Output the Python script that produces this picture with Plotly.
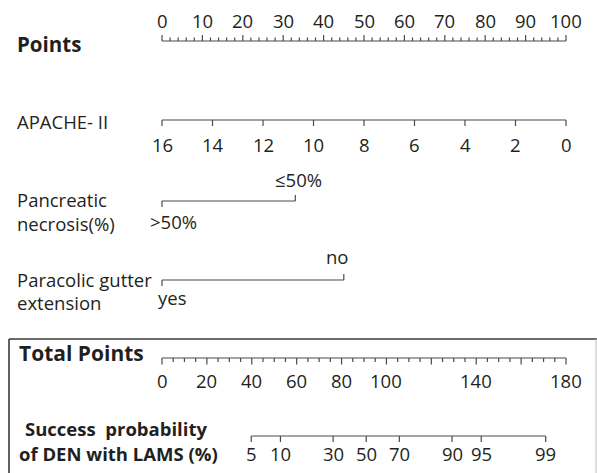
import math
import plotly.graph_objects as go

# ---------------- data ----------------
points_ticks = [0, 10, 20, 30, 40, 50, 60, 70, 80, 90, 100]
points_minor = list(range(0, 101, 2))

apache_values = [16, 14, 12, 10, 8, 6, 4, 2, 0]
apache_max = 16  # APACHE-II 16 -> 0 points, 0 -> 100 points

pancreatic_levels = [">50%", "≤50%"]
pancreatic_points = [0, 33]

paracolic_levels = ["yes", "no"]
paracolic_points = [0, 45]

total_ticks = [0, 20, 40, 60, 80, 100, 140, 180]
total_major = list(range(0, 181, 20))
total_minor = list(range(0, 181, 5))
total_max = 180

prob_labels = [5, 10, 30, 50, 70, 90, 95, 99]
tp_at_50 = 91.0      # total points where probability = 50%
tp_per_logit = 17.4  # total points per unit of linear predictor

# ---------------- layout constants ----------------
W, H = 597, 473
X0_PX, PX_PER_PT = 162.0, 4.04
TXT = "#231f20"
LINE = "#4a4a4a"
FONT = "Open Sans, Noto Sans, sans-serif"
FS = 18.5


def apache_pts(v):
    return (apache_max - v) / apache_max * 100


def total_to_pts(tp):
    return tp * 100 / total_max


def prob_to_pts(p):
    q = p / 100
    tp = tp_at_50 + tp_per_logit * math.log(q / (1 - q))
    return total_to_pts(tp)


fig = go.Figure()


def add_line(xs, ys, color=LINE, width=1.2):
    fig.add_trace(go.Scatter(x=xs, y=ys, mode="lines",
                             line=dict(color=color, width=width),
                             hoverinfo="skip", showlegend=False))


def add_axis(xpos, y, tick_len, major=None, major_len=None):
    add_line([min(xpos), max(xpos)], [y, y])
    xs, ys = [], []
    for x in xpos:
        L = tick_len
        if major is not None and x in major:
            L = major_len
        xs += [x, x, None]
        ys += [y, y + L, None]
    add_line(xs, ys)


def ann(text, x, y, size=FS, bold=False, xref="x", xanchor="center", xshift=0):
    fig.add_annotation(text=f"<b>{text}</b>" if bold else text,
                       x=x, y=y, xref=xref, yref="y", showarrow=False,
                       xanchor=xanchor, yanchor="middle", xshift=xshift,
                       font=dict(family=FONT, size=size, color=TXT))


# Points axis (ticks upward)
Y_PTS = 41
add_axis(points_minor, Y_PTS, -3.5, major=set(points_ticks), major_len=-6)
for t in points_ticks:
    ann(str(t), t, 20)
ann("Points", 15 / W, 44, size=20.5, bold=True, xref="paper", xanchor="left")

# APACHE-II (ticks downward)
Y_AP = 120
ap_x = [apache_pts(v) for v in apache_values]
add_axis(ap_x, Y_AP, 6)
for v, x in zip(apache_values, ap_x):
    ann(str(v), x, 144)
ann("APACHE- II", 15 / W, 121, xref="paper", xanchor="left")

# Pancreatic necrosis
Y_PN = 201
add_line([pancreatic_points[0], pancreatic_points[1]], [Y_PN, Y_PN])
add_line([pancreatic_points[0], pancreatic_points[0], None,
          pancreatic_points[1], pancreatic_points[1]],
         [Y_PN, Y_PN + 6, None, Y_PN, Y_PN - 6])
ann(pancreatic_levels[0], pancreatic_points[0], 221, xshift=11)
ann(pancreatic_levels[1], pancreatic_points[1], 179, xshift=3)
ann("Pancreatic", 15 / W, 199, xref="paper", xanchor="left")
ann("necrosis(%)", 15 / W, 223, xref="paper", xanchor="left")

# Paracolic gutter extension
Y_PG = 280
add_line([paracolic_points[0], paracolic_points[1]], [Y_PG, Y_PG])
add_line([paracolic_points[0], paracolic_points[0], None,
          paracolic_points[1], paracolic_points[1]],
         [Y_PG, Y_PG + 6, None, Y_PG, Y_PG - 6])
ann(paracolic_levels[0], paracolic_points[0], 297, xshift=10)
ann(paracolic_levels[1], paracolic_points[1], 256, xshift=-7)
ann("Paracolic gutter", 15 / W, 279, xref="paper", xanchor="left")
ann("extension", 15 / W, 302, xref="paper", xanchor="left")

# Box around the bottom section
fig.add_shape(type="line", xref="paper", yref="y", x0=9 / W, x1=1, y0=339, y1=339,
              line=dict(color="#3a3a3a", width=1.6))
fig.add_shape(type="line", xref="paper", yref="y", x0=9 / W, x1=9 / W, y0=339, y1=H + 5,
              line=dict(color="#3a3a3a", width=1.6))
fig.add_shape(type="line", xref="paper", yref="y", x0=596 / W, x1=596 / W, y0=339, y1=H + 5,
              line=dict(color="#bdbdbd", width=1))

# Total points (ticks downward)
Y_TP = 358
tp_x = [total_to_pts(t) for t in total_minor]
major_x = set(total_to_pts(t) for t in total_major)
add_axis(tp_x, Y_TP, 4, major=major_x, major_len=6.5)
for t in total_ticks:
    ann(str(t), total_to_pts(t), 380)
ann("Total Points", 17 / W, 353, size=21, bold=True, xref="paper", xanchor="left")

# Success probability (ticks downward)
Y_PR = 436
pr_x = [prob_to_pts(p) for p in prob_labels]
add_axis(pr_x, Y_PR, 6)
for p, x in zip(prob_labels, pr_x):
    ann(str(p), x, 453)
ann("Success  probability", 23 / W, 428.5, size=18.5, bold=True, xref="paper", xanchor="left")
ann("of DEN with LAMS (%)", 17 / W, 453, size=18.5, bold=True, xref="paper", xanchor="left")

fig.update_layout(
    width=W, height=H,
    margin=dict(l=0, r=0, t=0, b=0),
    paper_bgcolor="white", plot_bgcolor="white",
    xaxis=dict(range=[-X0_PX / PX_PER_PT, (W - X0_PX) / PX_PER_PT],
               visible=False, fixedrange=True),
    yaxis=dict(range=[H, 0], visible=False, fixedrange=True),
    showlegend=False,
)

fig.write_html("out.html", config={"displayModeBar": False},
               post_script="document.body.style.margin='0';")
